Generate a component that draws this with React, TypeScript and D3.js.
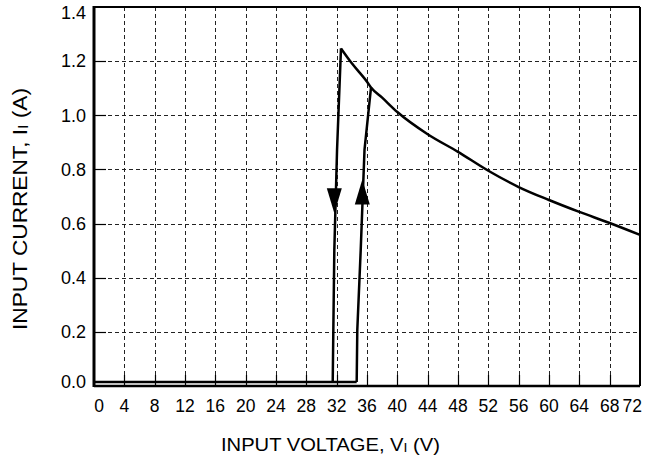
import React from "react";
import * as d3 from "d3";

// axis ticks
const xTicks = d3.range(0, 73, 4);
const yTicks = [0, 0.2, 0.4, 0.6, 0.8, 1.0, 1.2, 1.4];

// off state, flat along the bottom
const idleV = [0, 34.64];
const idleI = [0.015, 0.015];

// turn-on while the input voltage rises
const riseV = [34.64, 34.72, 35.17, 35.67, 36.53];
const riseI = [0.015, 0.207, 0.502, 0.872, 1.103];

// turn-off while the input voltage falls
const fallV = [32.57, 32.05, 31.69, 31.56, 31.48];
const fallI = [1.247, 0.872, 0.502, 0.207, 0.015];

// running current vs input voltage
const runV = [32.57, 34, 36, 36.53, 38, 40, 44, 48, 52, 56, 60, 64, 68, 72];
const runI = [1.247, 1.192, 1.124, 1.103, 1.065, 1.012, 0.93, 0.865, 0.795, 0.735, 0.687, 0.643, 0.602, 0.558];

// direction arrows (tip position)
const arrowV = [31.69, 35.38];
const arrowI = [0.638, 0.763];
const arrowDir = ["down", "up"];

const W = 648;
const H = 463;
const FONT = "'Liberation Sans', Arial, Helvetica, sans-serif";

export default function App() {
    const x = d3.scaleLinear().domain([0, 72]).range([94, 640]);
    const y = d3.scaleLinear().domain([0, 1.4]).range([386, 7]);

    const line = d3.line<[number, number]>().x((d) => x(d[0])).y((d) => y(d[1]));
    const smooth = d3.line<[number, number]>().x((d) => x(d[0])).y((d) => y(d[1])).curve(d3.curveMonotoneX);

    const zip = (a: number[], b: number[]) => a.map((v, i) => [v, b[i]] as [number, number]);

    const arrowPath = (v: number, c: number, dir: string) => {
        const tx = x(v);
        const ty = y(c);
        const len = 25;
        const hw = 7.5;
        const by = dir === "down" ? ty - len : ty + len;
        return `M${tx},${ty}L${tx - hw},${by}L${tx + hw},${by}Z`;
    };

    // end labels are nudged inward so they stay clear of the frame
    const yLabelShift = (i: number) => (i === 0 ? -4 : i === yTicks.length - 1 ? 6 : 0);

    return (
        <svg width={W} height={H} style={{ position: "absolute", left: 0, top: 0, background: "#fff" }}
             fontFamily={FONT}>
            {/* grid */}
            <g stroke="#222" strokeWidth={1} strokeDasharray="4,3">
                {xTicks.slice(1, -1).map((t) => (
                    <line key={`gx${t}`} x1={Math.round(x(t)) + 0.5} x2={Math.round(x(t)) + 0.5} y1={y(1.4)} y2={y(0)} />
                ))}
                {yTicks.slice(1, -1).map((t) => (
                    <line key={`gy${t}`} x1={x(0)} x2={x(72)} y1={Math.round(y(t)) + 0.5} y2={Math.round(y(t)) + 0.5} />
                ))}
            </g>
            {/* inner ticks */}
            <g stroke="#000" strokeWidth={1.2}>
                {xTicks.slice(1, -1).map((t) => (
                    <line key={`tx${t}`} x1={Math.round(x(t)) + 0.5} x2={Math.round(x(t)) + 0.5} y1={y(0)} y2={y(0) - 11} />
                ))}
                {yTicks.slice(1, -1).map((t) => (
                    <line key={`ty${t}`} x1={x(0)} x2={x(0) + 12} y1={Math.round(y(t)) + 0.5} y2={Math.round(y(t)) + 0.5} />
                ))}
            </g>
            {/* frame */}
            <g stroke="#000" fill="none">
                <line x1={x(0)} x2={x(72)} y1={y(1.4)} y2={y(1.4)} strokeWidth={2} />
                <line x1={x(72)} x2={x(72)} y1={y(1.4)} y2={y(0)} strokeWidth={2} />
                <line x1={x(0)} x2={x(72)} y1={y(0)} y2={y(0)} strokeWidth={2.5} />
                <line x1={x(0)} x2={x(0)} y1={y(1.4) - 1} y2={y(0) + 1} strokeWidth={3} />
            </g>
            {/* curves */}
            <g stroke="#000" fill="none" strokeWidth={2.5} strokeLinejoin="round">
                <path d={line(zip(idleV, idleI)) ?? undefined} />
                <path d={line(zip(riseV, riseI)) ?? undefined} />
                <path d={line(zip(fallV, fallI)) ?? undefined} />
                <path d={smooth(zip(runV, runI)) ?? undefined} />
            </g>
            <g fill="#000">
                {arrowV.map((v, i) => (
                    <path key={`a${i}`} d={arrowPath(v, arrowI[i], arrowDir[i])} />
                ))}
            </g>
            {/* tick labels */}
            <g fill="#000">
                {yTicks.map((t, i) => (
                    <text key={`ly${t}`} x={86} y={y(t) + yLabelShift(i)} dy="0.35em" fontSize={18}
                          textAnchor="end">{t.toFixed(1)}</text>
                ))}
                {xTicks.map((t, i) => {
                    const last = i === xTicks.length - 1;
                    return (
                        <text key={`lx${t}`} x={last ? x(t) + 2 : x(t) + (i === 0 ? 5 : 0)} y={411.5} fontSize={17.5}
                              textAnchor={last ? "end" : "middle"}>{t}</text>
                    );
                })}
            </g>
            {/* axis titles */}
            <text x={330.5} y={451} fontSize={18.5} textAnchor="middle" textLength={219} lengthAdjust="spacingAndGlyphs">
                INPUT VOLTAGE, V<tspan fontSize={13} dy={1}>I</tspan><tspan dy={-1}> (V)</tspan>
            </text>
            <text transform="translate(27,209) rotate(-90)" fontSize={20} textAnchor="middle" textLength={242}
                  lengthAdjust="spacingAndGlyphs">
                INPUT CURRENT, I<tspan fontSize={14} dy={1}>I</tspan><tspan dy={-1}> (A)</tspan>
            </text>
        </svg>
    );
}
